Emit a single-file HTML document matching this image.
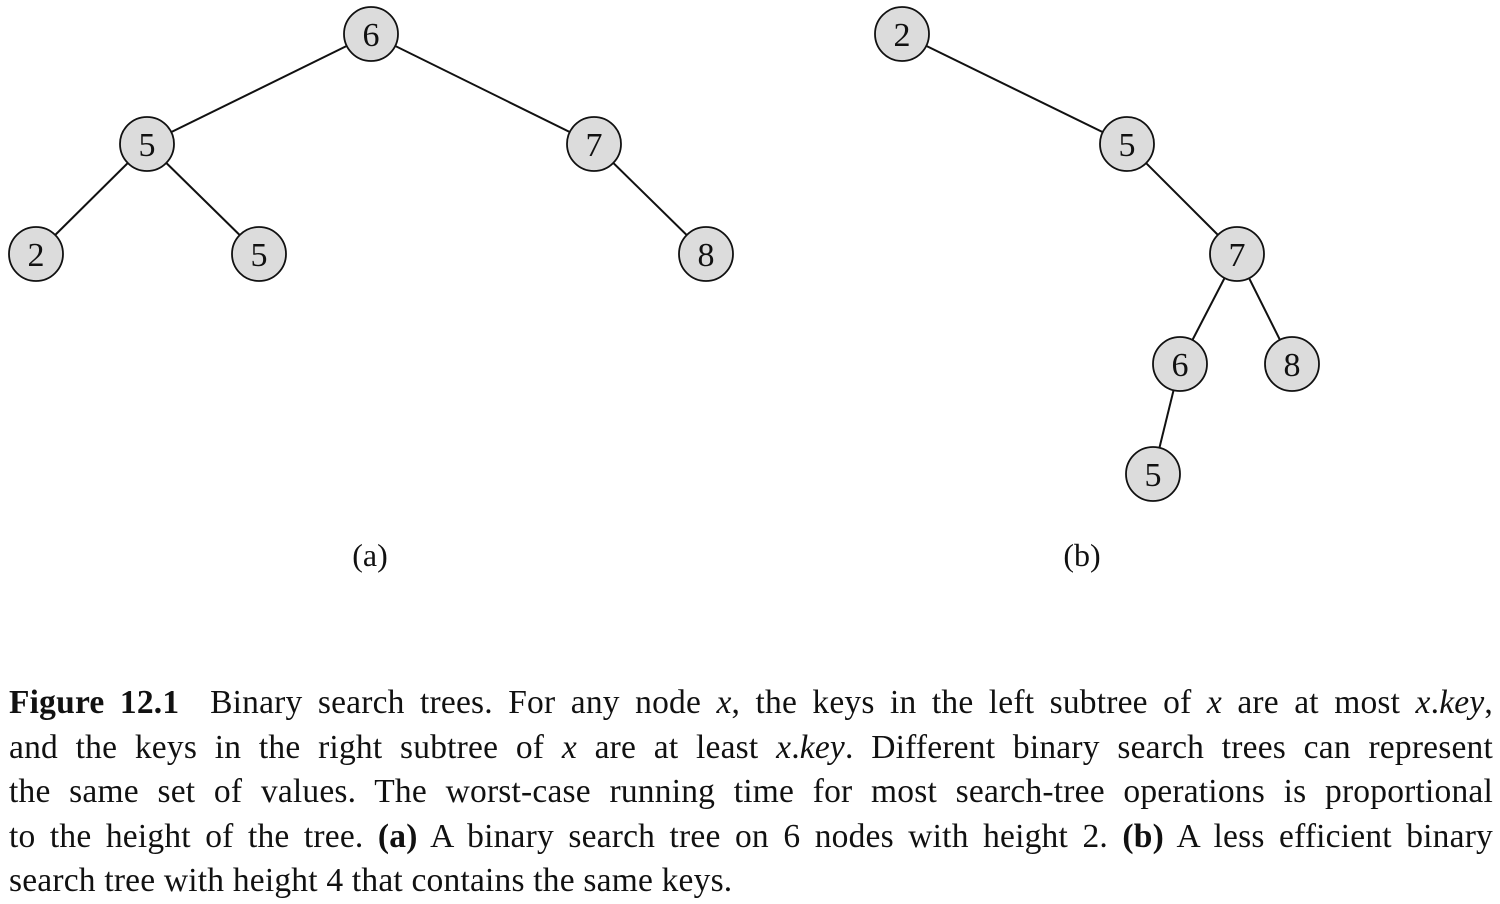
<!DOCTYPE html>
<html><head><meta charset="utf-8"><style>
body{margin:0;background:#fff;width:1500px;height:902px;overflow:hidden;}
svg{position:absolute;left:0;top:0;}
.cap{position:absolute;left:9px;top:681px;width:1484px;font-family:"Liberation Serif",serif;font-size:33.5px;letter-spacing:0.2px;line-height:44.5px;color:#111;}
.ln{text-align:justify;text-align-last:justify;height:44.5px;overflow:visible;}
.ln.last{text-align-last:left;}
</style></head><body>
<svg width="1500" height="640" id="fig"></svg>
<div class="cap">
<div class="ln"><b>Figure 12.1</b>&nbsp; Binary search trees. For any node <i>x</i>, the keys in the left subtree of <i>x</i> are at most <i>x</i>.<i>key</i>,</div>
<div class="ln">and the keys in the right subtree of <i>x</i> are at least <i>x</i>.<i>key</i>. Different binary search trees can represent</div>
<div class="ln">the same set of values. The worst-case running time for most search-tree operations is proportional</div>
<div class="ln">to the height of the tree. <b>(a)</b> A binary search tree on 6 nodes with height 2. <b>(b)</b> A less efficient binary</div>
<div class="ln last">search tree with height 4 that contains the same keys.</div>
</div>
<script>
const keysA=[6,5,7,2,5,8];
const xA=[371,147,594,36,259,706];
const yA=[34,144,144,254,254,254];
const edgesA=[[0,1],[0,2],[1,3],[1,4],[2,5]];
const keysB=[2,5,7,6,8,5];
const xB=[902,1127,1237,1180,1292,1153];
const yB=[34,144,254,364,364,474];
const edgesB=[[0,1],[1,2],[2,3],[2,4],[3,5]];
const NS="http://www.w3.org/2000/svg";
const svg=document.getElementById('fig');
function draw(keys,xs,ys,edges){
  edges.forEach(e=>{
    const l=document.createElementNS(NS,'line');
    
    
    l.setAttribute('x1',xs[e[0]]);l.setAttribute('y1',ys[e[0]]);
    l.setAttribute('x2',xs[e[1]]);l.setAttribute('y2',ys[e[1]]);
    l.setAttribute('stroke','#111');l.setAttribute('stroke-width','2');
    svg.appendChild(l);
  });
  keys.forEach((k,i)=>{
    const c=document.createElementNS(NS,'circle');
    
    
    c.setAttribute('cx',xs[i]);c.setAttribute('cy',ys[i]);c.setAttribute('r',27);
    c.setAttribute('fill','#dcdcdc');c.setAttribute('stroke','#111');c.setAttribute('stroke-width','1.8');
    svg.appendChild(c);
    const t=document.createElementNS(NS,'text');
    
    
    t.setAttribute('x',xs[i]);t.setAttribute('y',ys[i]+12);
    t.setAttribute('text-anchor','middle');t.setAttribute('font-family','Liberation Serif, serif');
    t.setAttribute('font-size','34');t.setAttribute('fill','#111');
    t.textContent=k;svg.appendChild(t);
  });
}
draw(keysA,xA,yA,edgesA);
draw(keysB,xB,yB,edgesB);
[["(a)",370,"label-a"],["(b)",1082,"label-b"]].forEach(d=>{
  const t=document.createElementNS(NS,'text');
  
  
  t.setAttribute('x',d[1]);t.setAttribute('y',566);t.setAttribute('text-anchor','middle');
  t.setAttribute('font-family','Liberation Serif, serif');t.setAttribute('font-size','32');t.setAttribute('fill','#111');
  t.textContent=d[0];svg.appendChild(t);
});
</script>
</body></html>
